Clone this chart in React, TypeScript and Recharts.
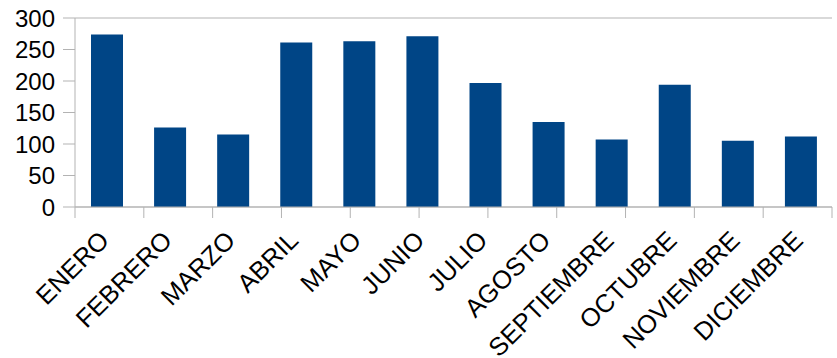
import React from 'react';
import { BarChart, Bar, XAxis, YAxis, CartesianGrid } from 'recharts';

const months = ['ENERO', 'FEBRERO', 'MARZO', 'ABRIL', 'MAYO', 'JUNIO', 'JULIO', 'AGOSTO', 'SEPTIEMBRE', 'OCTUBRE', 'NOVIEMBRE', 'DICIEMBRE'];
const values = [274, 126, 115, 261, 263, 271, 197, 135, 107, 194, 105, 112];
const yTicks = [0, 50, 100, 150, 200, 250, 300];
const boundaryTicks = [0, 1, 2, 3, 4, 5, 6, 7, 8, 9, 10, 11, 12];

const data = months.map((name, i) => ({ name, value: values[i] }));

const FONT = '"Liberation Sans", Arial, sans-serif';
const GRID = '#b3b3b3';

const MonthTick = ({ x, y, payload }: any) => {
  const ax = x + 4;
  const ay = y + 27;
  return (
    <text
      x={ax}
      y={ay}
      transform={`rotate(-45, ${ax}, ${ay})`}
      textAnchor="end"
      fontSize={25.5}
      fontFamily={FONT}
      fill="#000"
    >
      {payload.value}
    </text>
  );
};

const NoLabel = () => <g />;

export default function App() {
  return (
    <div style={{ position: 'absolute', left: 0, top: 0, width: 837, height: 358, background: '#fff' }}>
      <BarChart
        width={837}
        height={358}
        data={data}
        margin={{ top: 18, right: 5, bottom: 0, left: 0 }}
        barSize={32}
      >
        <CartesianGrid vertical={false} stroke={GRID} strokeWidth={1} />
        <XAxis
          xAxisId="cat"
          dataKey="name"
          height={151}
          axisLine={false}
          tickLine={false}
          interval={0}
          tick={<MonthTick />}
        />
        <XAxis
          xAxisId="edges"
          type="number"
          domain={[0, 12]}
          ticks={boundaryTicks}
          interval={0}
          tick={<NoLabel />}
          tickLine={{ stroke: GRID }}
          tickSize={-11}
          height={1}
          mirror
          stroke={GRID}
          allowDataOverflow
        />
        <YAxis
          yAxisId="left"
          domain={[0, 300]}
          ticks={yTicks}
          interval={0}
          width={75}
          tickSize={12}
          tickMargin={8}
          stroke={GRID}
          tick={{ fill: '#000', fontSize: 24, fontFamily: FONT }}
        />
        <YAxis
          yAxisId="right"
          orientation="right"
          domain={[0, 300]}
          width={0}
          tick={false}
          tickLine={false}
          stroke={GRID}
        />
        <Bar xAxisId="cat" yAxisId="left" dataKey="value" fill="#004586" isAnimationActive={false} />
      </BarChart>
    </div>
  );
}
